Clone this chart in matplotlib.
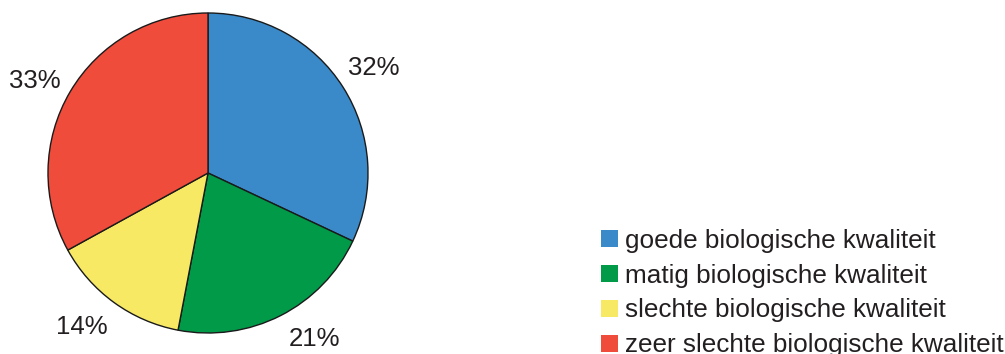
import matplotlib
matplotlib.use("Agg")
import matplotlib.pyplot as plt
from matplotlib.patches import Patch
import numpy as np

categories = ["goede biologische kwaliteit", "matig biologische kwaliteit",
              "slechte biologische kwaliteit", "zeer slechte biologische kwaliteit"]
values = [32, 21, 14, 33]
colors = ["#3a8ac9", "#009a48", "#f7e964", "#ef4c3c"]

# label placement style (relative radius, angular shift in degrees)
label_dist = [1.23, 1.23, 1.245, 1.225]
label_shift = [0.0, 5.6, -3.3, 2.7]

plt.rcParams['font.family'] = ['Liberation Sans', 'DejaVu Sans']

fig = plt.figure(figsize=(10.05, 3.54), dpi=100)
ax = fig.add_axes([0, 0, 1, 1])

cx, cy, R = 208, 181, 160
ax.pie(values, colors=colors, startangle=90, counterclock=False,
       center=(cx, cy), radius=R, frame=True,
       wedgeprops=dict(edgecolor='#1a1a1a', linewidth=1.0))
ax.set_xlim(0, 1005)
ax.set_ylim(0, 354)
ax.set_aspect('equal')
ax.axis('off')

total = sum(values)
ang = 90.0
for v, d, s in zip(values, label_dist, label_shift):
    span = v / total * 360
    mid = np.deg2rad(ang - span / 2 + s)
    ang -= span
    r = R * d
    ax.text(cx + r * np.cos(mid), cy + r * np.sin(mid), f"{v}%",
            ha='center', va='center', fontsize=18.5, color='#231f20')

handles = [Patch(facecolor=c, edgecolor='none') for c in colors]
fig.legend(handles, categories, loc='center left',
           bbox_to_anchor=(601 / 1005, 1 - 293 / 354), frameon=False,
           fontsize=18.8, handlelength=0.65, handleheight=0.65, handletextpad=0.28,
           labelspacing=0.42, borderpad=0, borderaxespad=0,
           labelcolor='#231f20')

fig.savefig("out.png", dpi=100)
